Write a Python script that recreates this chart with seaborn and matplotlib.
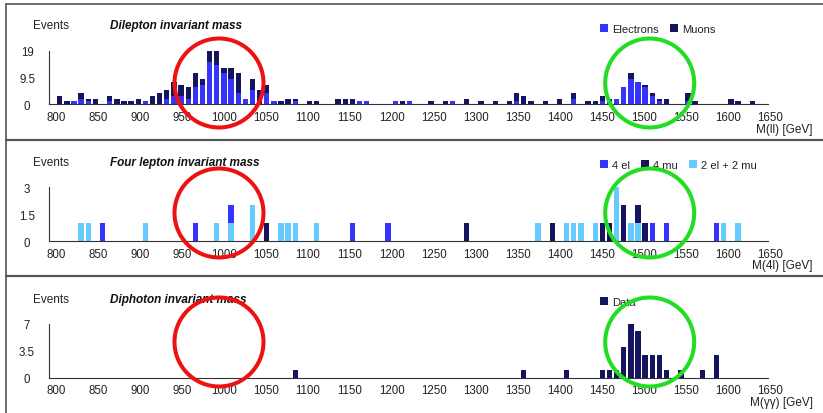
import matplotlib
matplotlib.use("Agg")
import matplotlib.pyplot as plt
import matplotlib.transforms as mtransforms
from matplotlib.patches import Patch, Ellipse
from matplotlib.lines import Line2D
import pandas as pd
import seaborn as sns

# --- dilepton invariant mass: bin centres (GeV) and counts per flavour
ll_mass = [812.75, 821.25, 829.75, 838.25, 846.75, 855.25, 872.25, 880.75, 889.25, 897.75,
           906.25, 914.75, 923.25, 931.75, 940.25, 948.75, 957.25, 965.75, 974.25, 982.75,
           991.25, 999.75, 1008.25, 1016.75, 1025.25, 1033.75, 1042.25, 1050.75, 1059.25, 1067.75,
           1076.25, 1084.75, 1093.25, 1110.25, 1118.75, 1144.25, 1152.75, 1161.25, 1169.75, 1178.25,
           1212.25, 1220.75, 1229.25, 1254.75, 1271.75, 1280.25, 1297.25, 1314.25, 1331.25, 1348.25,
           1356.75, 1365.25, 1373.75, 1390.75, 1407.75, 1424.75, 1441.75, 1450.25, 1458.75, 1467.25,
           1475.75, 1484.25, 1492.75, 1501.25, 1509.75, 1518.25, 1526.75, 1535.25, 1560.75, 1569.25,
           1611.75, 1620.25, 1637.25]
ll_electrons = [0, 0, 1, 2, 1, 0, 1, 0, 0, 0,
                0, 1, 0, 0, 2, 3, 3, 2, 6, 7,
                15, 14, 11, 9, 4, 2, 5, 0, 4, 1,
                0, 0, 1, 0, 0, 0, 0, 0, 1, 1,
                1, 0, 1, 0, 0, 1, 0, 0, 0, 0,
                1, 0, 0, 0, 0, 2, 0, 0, 1, 1,
                2, 6, 9, 8, 6, 3, 1, 0, 1, 0,
                0, 0, 0]
ll_muons = [3, 1, 0, 2, 1, 2, 2, 2, 1, 1,
            2, 0, 3, 4, 3, 5, 4, 4, 5, 2,
            4, 5, 2, 4, 7, 0, 4, 5, 3, 0,
            1, 2, 1, 1, 1, 2, 2, 2, 0, 0,
            0, 1, 0, 1, 1, 0, 2, 1, 1, 1,
            3, 3, 1, 1, 2, 2, 1, 1, 2, 1,
            0, 0, 2, 0, 1, 1, 1, 2, 3, 1,
            2, 1, 1]

# --- four lepton invariant mass
el4_mass = [863.75, 974.25, 1016.75, 1161.25, 1203.75, 1518.25, 1535.25, 1594.75]
el4_count = [1, 1, 1, 1, 1, 1, 1, 1]
mu4_mass = [1059.25, 1297.25, 1399.25, 1458.75, 1467.25, 1484.25, 1501.25, 1509.75]
mu4_count = [1, 1, 1, 1, 1, 2, 1, 1]
mix_mass = [838.25, 846.75, 914.75, 999.75, 1016.75, 1042.25, 1076.25, 1084.75, 1093.25, 1118.75,
            1382.25, 1416.25, 1424.75, 1433.25, 1450.25, 1475.75, 1492.75, 1501.25, 1603.25, 1620.25]
mix_count = [1, 1, 1, 1, 1, 2, 1, 1, 1, 1,
             1, 1, 1, 1, 1, 3, 1, 1, 1, 1]

# --- diphoton invariant mass
gg_mass = [1093.25, 1365.25, 1416.25, 1458.75, 1467.25, 1475.75, 1484.25, 1492.75, 1501.25,
           1509.75, 1518.25, 1526.75, 1535.25, 1552.25, 1577.75, 1594.75]
gg_count = [1, 1, 1, 1, 1, 1, 4, 7, 6, 3, 3, 3, 1, 1, 1, 3]

x_ticks = list(range(800, 1651, 50))

C_EL = "#3434fc"
C_MU = "#15155f"
C_MIX = "#66ccff"

W, H = 823, 414
sns.set_style("white")
plt.rcParams["font.family"] = ["Liberation Sans", "DejaVu Sans"]
fig = plt.figure(figsize=(W / 100, H / 100), dpi=100)


def fx(px):
    return px / W


def fy(py):
    return 1 - py / H


panels = [
    dict(base=105.3, top=51.7, ymax=19, yt=[0, 9.5, 19], ylab=["0", "9.5", "19"],
         title="Dilepton invariant mass", xlabel="M(ll) [GeV]", ty=26, ly=30, xly=130,
         df=pd.DataFrame({
             "mass": ll_mass + ll_mass,
             "count": ll_electrons + ll_muons,
             "channel": ["Electrons"] * len(ll_mass) + ["Muons"] * len(ll_mass)}),
         order=["Muons", "Electrons"], colors={"Electrons": C_EL, "Muons": C_MU},
         legend=["Electrons", "Muons"]),
    dict(base=242.3, top=188.3, ymax=3, yt=[0, 1.5, 3], ylab=["0", "1.5", "3"],
         title="Four lepton invariant mass", xlabel="M(4l) [GeV]", ty=163, ly=166, xly=266,
         df=pd.DataFrame({
             "mass": el4_mass + mu4_mass + mix_mass,
             "count": el4_count + mu4_count + mix_count,
             "channel": ["4 el"] * len(el4_mass) + ["4 mu"] * len(mu4_mass)
             + ["2 el + 2 mu"] * len(mix_mass)}),
         order=["4 mu", "4 el", "2 el + 2 mu"],
         colors={"4 el": C_EL, "4 mu": C_MU, "2 el + 2 mu": C_MIX},
         legend=["4 el", "4 mu", "2 el + 2 mu"]),
    dict(base=378.7, top=324.7, ymax=7, yt=[0, 3.5, 7], ylab=["0", "3.5", "7"],
         title="Diphoton invariant mass", xlabel="M(γγ) [GeV]", ty=300, ly=303, xly=403,
         df=pd.DataFrame({"mass": gg_mass, "count": gg_count, "channel": ["Data"] * len(gg_mass)}),
         order=["Data"], colors={"Data": C_MU}, legend=["Data"]),
]

x_left, x_right = 49, 768
xlabel_offset = mtransforms.ScaledTranslation(7 / 100, 0, fig.dpi_scale_trans)

for p in panels:
    ax = fig.add_axes([fx(x_left), fy(p["base"]), (x_right - x_left) / W, (p["base"] - p["top"]) / H])
    sns.histplot(data=p["df"], x="mass", weights="count", hue="channel", hue_order=p["order"],
                 palette=p["colors"], multiple="stack", binwidth=8.5, binrange=(800, 1650),
                 shrink=0.75, alpha=1, linewidth=0, legend=False, ax=ax)
    ax.set_xlim(800, 1656)
    ax.set_ylim(0, p["ymax"])
    ax.set_xlabel("")
    ax.set_ylabel("")
    ax.set_xticks(x_ticks)
    ax.set_xticklabels([str(t) for t in x_ticks])
    ax.set_yticks(p["yt"])
    ax.set_yticklabels(p["ylab"])
    for s in ["top", "right"]:
        ax.spines[s].set_visible(False)
    for s in ["left", "bottom"]:
        ax.spines[s].set_color("#333333")
        ax.spines[s].set_linewidth(0.8)
    ax.tick_params(axis="x", direction="inout", length=3, width=0.8, color="#555555",
                   labelsize=8.3, labelcolor="#222222", pad=3)
    ax.tick_params(axis="y", direction="inout", length=5, width=0.8, color="#555555",
                   labelsize=8.3, labelcolor="#222222", pad=13.3)
    for lab in ax.get_yticklabels():
        lab.set_ha("center")
    for lab in ax.get_xticklabels():
        lab.set_transform(lab.get_transform() + xlabel_offset)

    fig.text(fx(33), fy(p["ty"]), "Events", fontsize=8.5, color="#222222", va="center")
    fig.text(fx(110), fy(p["ty"]), p["title"], fontsize=8.5, fontweight="bold",
             fontstyle="italic", color="#111111", va="center")
    fig.text(fx(813), fy(p["xly"]), p["xlabel"], fontsize=8.5, color="#222222",
             ha="right", va="center")
    handles = [Patch(facecolor=p["colors"][k], edgecolor="none") for k in p["legend"]]
    fig.legend(handles, p["legend"], loc="center left", bbox_to_anchor=(fx(600), fy(p["ly"])),
               ncol=len(handles), frameon=False, fontsize=8, handlelength=0.72,
               handleheight=0.72, handletextpad=0.36, columnspacing=1.0,
               borderpad=0, borderaxespad=0, labelcolor="#222222")

    # highlight circles
    cy = {105.3: 84, 242.3: 214, 378.7: 343}[p["base"]]
    for cx, col in [(219, "#ee1111"), (649.7, "#22dd22")]:
        fig.add_artist(Ellipse((fx(cx), fy(cy)), 89 / W, 89 / H, transform=fig.transFigure,
                               fill=False, edgecolor=col, linewidth=2.9, zorder=10))

# panel frame lines
frame = [((6, 823), (5, 5), 1.2), ((6, 6), (5, 414), 1.2),
         ((6, 823), (141, 141), 1.6), ((6, 823), (277, 277), 1.6)]
for xs, ys, lw in frame:
    fig.add_artist(Line2D([fx(x) for x in xs], [fy(y) for y in ys], transform=fig.transFigure,
                          color="#555555", linewidth=lw))

fig.savefig("out.png", dpi=100)
